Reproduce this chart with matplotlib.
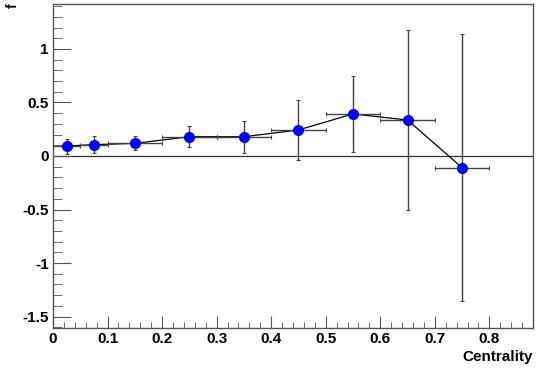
import numpy as np
import matplotlib.pyplot as plt
from matplotlib.ticker import MultipleLocator

plt.rcParams['font.family'] = ['Liberation Sans', 'DejaVu Sans']
plt.rcParams['font.weight'] = 'bold'

centrality = [0.025, 0.075, 0.15, 0.25, 0.35, 0.45, 0.55, 0.65, 0.75]
f_val = [0.093, 0.106, 0.118, 0.18, 0.18, 0.243, 0.393, 0.336, -0.109]
f_err = [0.07, 0.08, 0.065, 0.10, 0.15, 0.28, 0.355, 0.84, 1.245]
x_err = [0.025, 0.025, 0.05, 0.05, 0.05, 0.05, 0.05, 0.05, 0.05]

fig = plt.figure(figsize=(5.36, 3.69), dpi=100)
ax = fig.add_axes([53 / 536, 1 - 328 / 369, 480 / 536, 324 / 369])

ax.axhline(0, color='#333333', lw=0.9, zorder=1)
ax.plot(centrality, f_val, color='black', lw=0.9, zorder=2)
ax.errorbar(centrality, f_val, yerr=f_err, xerr=x_err, fmt='none',
            ecolor='#444444', elinewidth=1.0, capsize=1.5, capthick=0.8, zorder=3)
ax.plot(centrality, f_val, 'o', color='#0000ff', ms=7, zorder=4)

ax.set_xlim(0, 0.88)
ax.set_ylim(-1.607, 1.42)
ax.xaxis.set_major_locator(MultipleLocator(0.1))
ax.xaxis.set_minor_locator(MultipleLocator(0.02))
ax.yaxis.set_major_locator(MultipleLocator(0.5))
ax.yaxis.set_minor_locator(MultipleLocator(0.1))
ax.tick_params(which='both', direction='in', top=False, right=False,
               labelsize=11, color='#555555')
ax.tick_params(axis='y', which='major', length=13, pad=3)
ax.tick_params(axis='y', which='minor', length=6.5)
ax.tick_params(axis='x', which='major', length=9, pad=3)
ax.tick_params(axis='x', which='minor', length=4.5)
ax.set_xticks([0, 0.1, 0.2, 0.3, 0.4, 0.5, 0.6, 0.7, 0.8])
ax.set_xticklabels(['0', '0.1', '0.2', '0.3', '0.4', '0.5', '0.6', '0.7', '0.8'])
ax.set_yticks([-1.5, -1, -0.5, 0, 0.5, 1])
ax.set_yticklabels(['-1.5', '-1', '-0.5', '0', '0.5', '1'])
for s in ax.spines.values():
    s.set_color('#555555')
    s.set_linewidth(1.0)

fig.text(533 / 536, 1 - 357 / 369, 'Centrality', ha='right', va='center',
         fontsize=11, fontweight='bold')
fig.text(13 / 536, 1 - 6 / 369, 'f', ha='center', va='center', rotation=90,
         fontsize=10, fontweight='bold')

fig.savefig('out.png', dpi=100)
